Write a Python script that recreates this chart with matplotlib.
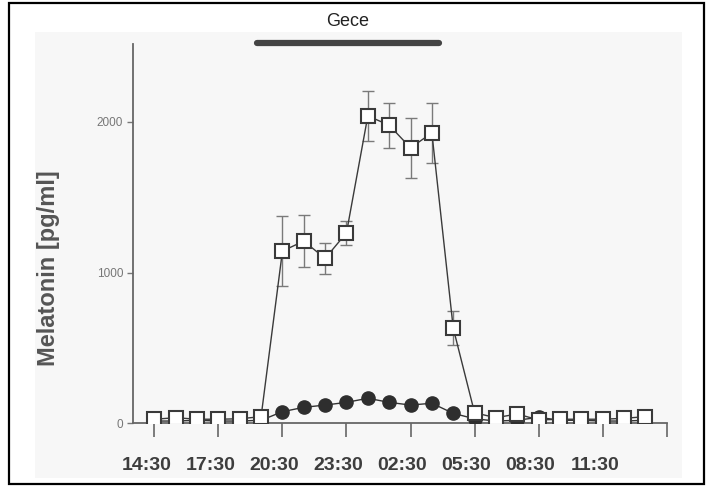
import matplotlib
matplotlib.use('Agg')
import matplotlib.pyplot as plt
import matplotlib.transforms as mtransforms
from matplotlib.patches import Rectangle

plt.rcParams['font.family'] = ['Liberation Sans', 'DejaVu Sans']

# hours after 14:30, one sample per hour
hours = list(range(24))
squares = [27, 37, 27, 27, 30, 44, 1143, 1209, 1094, 1264, 2040, 1978, 1828, 1927,
           632, 70, 37, 62, 22, 27, 27, 27, 33, 44]
square_err = [0, 0, 0, 0, 0, 0, 230, 170, 100, 78, 165, 150, 200, 200,
              115, 0, 0, 0, 0, 0, 0, 0, 0, 0]
circles = [15, 15, 20, 15, 15, 20, 77, 106, 121, 139, 166, 139, 121, 133,
           66, 30, 15, 20, 40, 20, 20, 15, 15, 20]
tick_pos = [0, 3, 6, 9, 12, 15, 18, 21, 24]
tick_labels = ['14:30', '17:30', '20:30', '23:30', '02:30', '05:30', '08:30', '11:30', '']
night = (4.8, 13.35)
night_label = 'Gece'

fig = plt.figure(figsize=(7.12, 4.88), dpi=100)
W, H = 712.0, 488.0

# scanned paper area + outer frame
bg = Rectangle((35 / W, 1 - 478 / H), (682 - 35) / W, (478 - 32) / H,
               transform=fig.transFigure, facecolor='#f7f7f7', edgecolor='none')
bg.set_zorder(-5)
fig.add_artist(bg)
frame = Rectangle((9 / W, 1 - 484 / H), (704 - 9) / W, (484 - 3) / H,
                  transform=fig.transFigure, facecolor='none',
                  edgecolor='black', linewidth=1.6)
frame.set_zorder(10)
fig.add_artist(frame)

ax = fig.add_axes([133 / W, 1 - 423.3 / H, (666.7 - 133) / W, (423.3 - 44.3) / H])
ax.set_facecolor('none')
ax.set_zorder(1)

ax.plot(hours, circles, color='#333333', linewidth=1.0, marker='o', markersize=9.5,
        markerfacecolor='#2e2e2e', markeredgecolor='#2e2e2e', zorder=3)

ax.errorbar(hours, squares, yerr=square_err, fmt='none', ecolor='#7a7a7a',
            elinewidth=1.0, capsize=4, capthick=1.0, zorder=2)
ax.plot(hours, squares, color='#3a3a3a', linewidth=1.0, marker='s', markersize=9.5,
        markerfacecolor='white', markeredgecolor='#3a3a3a', markeredgewidth=1.5, zorder=4)

ax.set_xlim(-1, 24)
ax.set_ylim(0, 2515)

for s in ['top', 'right']:
    ax.spines[s].set_visible(False)
for s in ['left', 'bottom']:
    ax.spines[s].set_color('#666666')
    ax.spines[s].set_linewidth(1.3)

ax.set_yticks([0, 1000, 2000])
ax.set_yticklabels(['0', '1000', '2000'], fontsize=8.5, color='#777777')
ax.tick_params(axis='y', direction='out', length=4, width=1.0, color='#777777', pad=3)

ax.set_xticks(tick_pos)
ax.set_xticklabels(tick_labels, fontsize=14, fontweight='bold', color='#3d3d3d')
ax.tick_params(axis='x', direction='out', length=10, width=1.2, color='#666666', pad=14)
offset = mtransforms.ScaledTranslation(-0.08, 0, fig.dpi_scale_trans)
for lab in ax.get_xticklabels():
    lab.set_transform(lab.get_transform() + offset)

ax.set_ylabel('Melatonin [pg/ml]', fontsize=17, fontweight='bold', color='#555555')
ax.yaxis.set_label_coords(-0.136, 0.41)

ax.plot(night, [2522, 2522], color='#444444', linewidth=4.5, solid_capstyle='round',
        clip_on=False, zorder=5)
ax.text(sum(night) / 2, 2665, night_label, ha='center', va='center', fontsize=13,
        color='#222222', clip_on=False)

fig.savefig('out.png', dpi=100)
